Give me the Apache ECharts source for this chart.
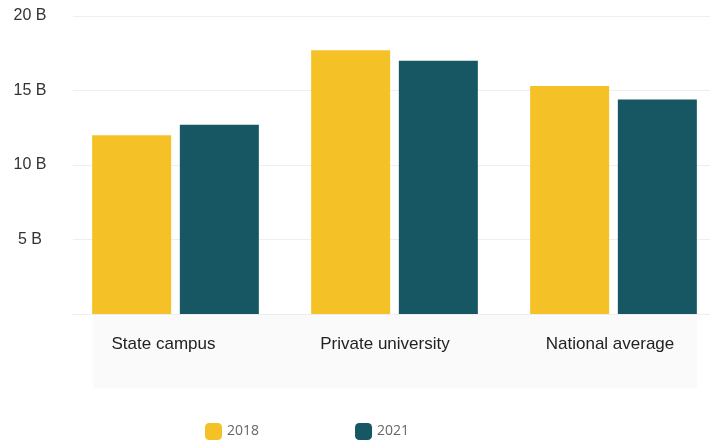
<!DOCTYPE html>
<html>
<head>
<meta charset="utf-8">
<script src="https://cdn.jsdelivr.net/npm/echarts@6/dist/echarts.min.js"></script>
<style>
  html, body { margin: 0; padding: 0; background: #fff; }
  #chart { width: 710px; height: 443px; }
</style>
</head>
<body>
<div id="chart"></div>
<script>
  // 数据
  var categories = ['State campus', 'Private university', 'National average'];
  var values2018 = [12.0, 17.7, 15.3];
  var values2021 = [12.7, 17.0, 14.4];
  var yTicks = [0, 5, 10, 15, 20];

  var yMin = yTicks[0];
  var yMax = yTicks[yTicks.length - 1];
  // 标签向左偏移（右侧padding）
  var labelPad = [24, 19, 7];

  var myChart = echarts.init(document.getElementById('chart'));
  myChart.setOption({
    animation: false,
    textStyle: { fontFamily: 'Liberation Sans, Arial, sans-serif' },
    graphic: [{
      type: 'rect',
      z: -10,
      shape: { x: 93, y: 315, width: 604, height: 73 },
      style: { fill: '#fafafa' }
    }],
    legend: {
      left: 205,
      top: 423,
      padding: 0,
      itemWidth: 17,
      itemHeight: 17,
      itemGap: 96,
      icon: 'roundRect',
      textStyle: { color: '#666', fontSize: 14, fontFamily: 'Open Sans, sans-serif' },
      data: ['2018', '2021']
    },
    grid: [
      // 背景网格线 + y轴标签
      { left: 73, top: 16, right: 0, height: 298 },
      // 柱子所在网格
      { left: 175.5, top: 16, width: 438, height: 298 }
    ],
    xAxis: [
      {
        gridIndex: 0,
        type: 'category',
        data: categories,
        axisTick: { show: false },
        axisLabel: { show: false },
        axisLine: { lineStyle: { color: '#eeeeee' } }
      },
      {
        gridIndex: 1,
        type: 'category',
        boundaryGap: false,
        data: categories.map(function (c, i) {
          return { value: c, textStyle: { padding: [0, labelPad[i], 0, 0] } };
        }),
        axisTick: { show: false },
        axisLine: { show: false },
        axisLabel: {
          color: '#222',
          fontSize: 17,
          margin: 22
        }
      }
    ],
    yAxis: [
      {
        gridIndex: 0,
        type: 'value',
        min: yMin,
        max: yMax,
        interval: 5,
        axisLine: { show: false },
        axisTick: { show: false },
        splitLine: { lineStyle: { color: '#efefef' } },
        axisLabel: {
          color: '#333',
          fontSize: 16,
          align: 'center',
          margin: 43,
          formatter: function (v) { return v === 0 ? '' : v + ' B'; }
        }
      },
      {
        gridIndex: 1,
        type: 'value',
        min: yMin,
        max: yMax,
        interval: 5,
        show: false
      }
    ],
    series: [
      {
        name: '2018',
        type: 'bar',
        xAxisIndex: 1,
        yAxisIndex: 1,
        barWidth: 79,
        barGap: '11%',
        data: values2018,
        itemStyle: { color: '#f4c127' }
      },
      {
        name: '2021',
        type: 'bar',
        xAxisIndex: 1,
        yAxisIndex: 1,
        barWidth: 79,
        data: values2021,
        itemStyle: { color: '#175763' }
      }
    ]
  });
</script>
</body>
</html>
